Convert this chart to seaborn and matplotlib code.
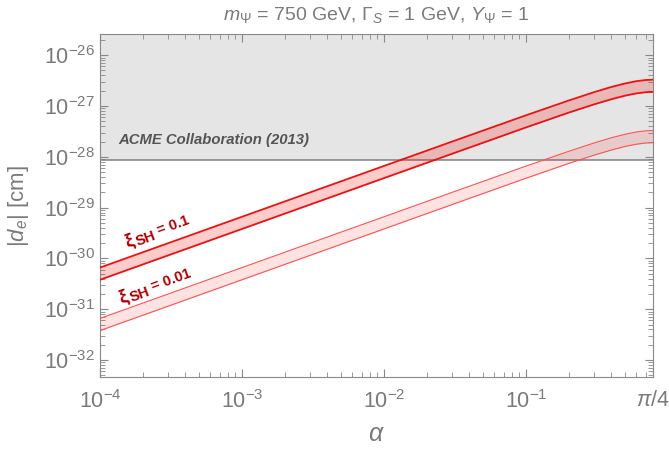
import numpy as np
import pandas as pd
import seaborn as sns
import matplotlib.pyplot as plt
from matplotlib.ticker import LogLocator, FixedLocator, NullFormatter

# values
alpha = [1e-4, 1e-3, 1e-2, 3e-2, 0.1, 0.2, 0.3, 0.4, 0.5, 0.6, 0.7, np.pi / 4]
xi01_upper = [6.6e-31, 6.6e-30, 6.6e-29, 1.98e-28, 6.55e-28, 1.28e-27,
              1.86e-27, 2.37e-27, 2.78e-27, 3.08e-27, 3.25e-27, 3.3e-27]
xi01_lower = [3.8e-31, 3.8e-30, 3.8e-29, 1.14e-28, 3.78e-28, 7.4e-28,
              1.07e-27, 1.36e-27, 1.6e-27, 1.77e-27, 1.87e-27, 1.9e-27]
xi001_upper = [6.6e-32, 6.6e-31, 6.6e-30, 1.98e-29, 6.55e-29, 1.28e-28,
               1.86e-28, 2.37e-28, 2.78e-28, 3.08e-28, 3.25e-28, 3.3e-28]
xi001_lower = [3.8e-32, 3.8e-31, 3.8e-30, 1.14e-29, 3.78e-29, 7.4e-29,
               1.07e-28, 1.36e-28, 1.6e-28, 1.77e-28, 1.87e-28, 1.9e-28]
acme_limit = 8.7e-29
xticks = [1e-4, 1e-3, 1e-2, 1e-1, np.pi / 4]
xticklabels = ['$10^{-4}$', '$10^{-3}$', '$10^{-2}$', '$10^{-1}$', r'$\pi/4$']
yticks = [1e-32, 1e-31, 1e-30, 1e-29, 1e-28, 1e-27, 1e-26]
yticklabels = ['$10^{-32}$', '$10^{-31}$', '$10^{-30}$', '$10^{-29}$',
               '$10^{-28}$', '$10^{-27}$', '$10^{-26}$']
band_labels = [('= 0.1', 1.55e-4, 1.7e-30), ('= 0.01', 1.41e-4, 1.35e-31)]

df = pd.DataFrame({'alpha': alpha, 'u1': xi01_upper, 'l1': xi01_lower,
                   'u2': xi001_upper, 'l2': xi001_lower})

sns.set_style("ticks")
plt.rcParams['font.family'] = ['Liberation Sans', 'DejaVu Sans']
plt.rcParams['mathtext.fontset'] = 'custom'
plt.rcParams['mathtext.rm'] = 'Liberation Sans'
plt.rcParams['mathtext.it'] = 'Liberation Sans:italic'
plt.rcParams['mathtext.bf'] = 'Liberation Sans:bold'

grey = '#7a7a7a'
fig = plt.figure(figsize=(6.69, 4.49), dpi=100)
ax = fig.add_axes([0.1495, 0.160, 0.8265, 0.764])

ymin, ymax = 4.6e-33, 2.6e-26
xmin, xmax = 1e-4, np.pi / 4

# excluded region
ax.fill_between([xmin, xmax], acme_limit, ymax, color='#e5e5e5', zorder=0, lw=0)
ax.axhline(acme_limit, color='#808080', lw=1.1, zorder=1)

# xi = 0.01 band
ax.fill_between(df['alpha'], df['l2'], df['u2'], color='#ff0000', alpha=0.11, lw=0, zorder=2)
sns.lineplot(data=df, x='alpha', y='u2', ax=ax, color='#ff5050', lw=0.8, zorder=3)
sns.lineplot(data=df, x='alpha', y='l2', ax=ax, color='#ff5050', lw=0.8, zorder=3)

# xi = 0.1 band
ax.fill_between(df['alpha'], df['l1'], df['u1'], color='#ff0000', alpha=0.2, lw=0, zorder=2)
sns.lineplot(data=df, x='alpha', y='u1', ax=ax, color='#ee1111', lw=1.3, zorder=3)
sns.lineplot(data=df, x='alpha', y='l1', ax=ax, color='#ee1111', lw=1.3, zorder=3)

ax.set_xscale('log')
ax.set_yscale('log')
ax.set_xlim(xmin, xmax)
ax.set_ylim(ymin, ymax)

ax.text(1.34e-4, 2.1e-28, 'ACME Collaboration (2013)', fontsize=10.7, fontweight='bold',
        fontstyle='italic', color='#555555', va='center', ha='left')

# band labels: big xi, then "SH = ..." slightly lowered, all rotated along the band
rot = 20
c, s = np.cos(np.radians(rot)), np.sin(np.radians(rot))
for txt, lx, ly in band_labels:
    ax.annotate('ξ', xy=(lx, ly), xytext=(0, 0), textcoords='offset points',
                fontsize=14, fontweight='bold', color='#aa0000', rotation=rot,
                rotation_mode='anchor', ha='left', va='baseline')
    dx, dy = 7.2, -2.2
    ax.annotate('SH', xy=(lx, ly), xytext=(dx * c - dy * s, dx * s + dy * c),
                textcoords='offset points', fontsize=10.5, fontweight='bold',
                color='#aa0000', rotation=rot, rotation_mode='anchor',
                ha='left', va='baseline')
    dx, dy = 24.5, 0
    ax.annotate(txt, xy=(lx, ly), xytext=(dx * c - dy * s, dx * s + dy * c),
                textcoords='offset points', fontsize=10.5, fontweight='bold',
                color='#aa0000', rotation=rot, rotation_mode='anchor',
                ha='left', va='baseline')

ax.xaxis.set_major_locator(FixedLocator(xticks))
ax.set_xticklabels(xticklabels)
ax.xaxis.set_minor_locator(LogLocator(base=10, subs=np.arange(2, 10), numticks=20))
ax.xaxis.set_minor_formatter(NullFormatter())
ax.yaxis.set_major_locator(FixedLocator(yticks))
ax.set_yticklabels(yticklabels)
ax.yaxis.set_minor_locator(LogLocator(base=10, subs=np.arange(2, 10), numticks=20))
ax.yaxis.set_minor_formatter(NullFormatter())

ax.tick_params(which='both', direction='in', top=True, right=True, colors='#888888',
               labelcolor=grey, labelsize=15.5)
ax.tick_params(which='major', length=6)
ax.tick_params(which='minor', length=3.5)
ax.tick_params(axis='x', which='major', pad=9)
for sp in ax.spines.values():
    sp.set_color('#888888')

ax.set_xlabel(r'$\alpha$', fontsize=18, color=grey, labelpad=7)
ax.set_ylabel(r'$|d_e|$ [cm]', fontsize=16, color=grey, labelpad=9)
ax.set_title(r'$m_\Psi$ = 750 GeV, $\Gamma_S$ = 1 GeV, $Y_\Psi$ = 1', fontsize=14,
             color=grey, pad=10)

plt.savefig('out.png', dpi=100)
